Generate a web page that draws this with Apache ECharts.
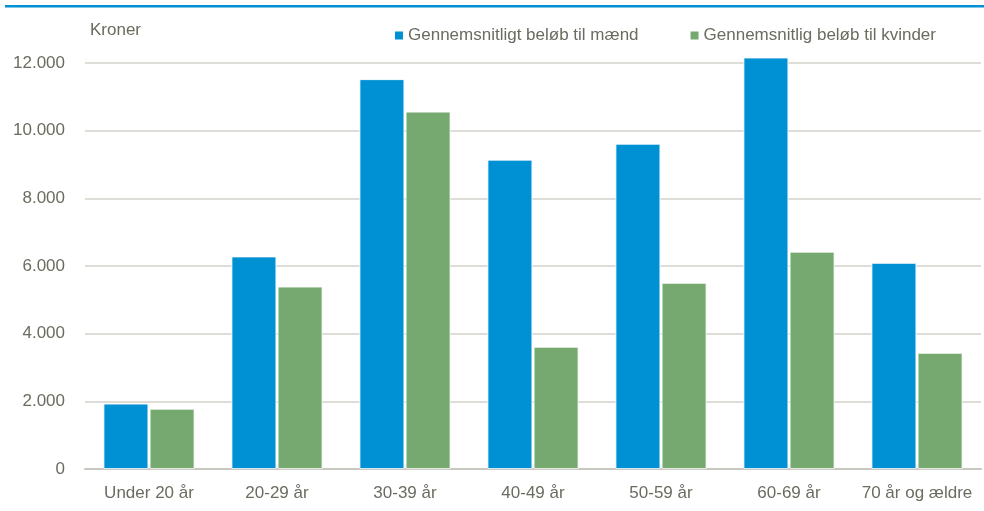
<!DOCTYPE html>
<html><head><meta charset="utf-8">
<script src="https://cdn.jsdelivr.net/npm/echarts@6/dist/echarts.min.js"></script>
<style>html,body{margin:0;padding:0;background:#fff}#c{width:984px;height:511px}</style>
</head><body><div id="c"></div>
<script>
const categories = ['Under 20 år','20-29 år','30-39 år','40-49 år','50-59 år','60-69 år','70 år og ældre'];
const menValues = [1930, 6280, 11520, 9140, 9610, 12160, 6090];
const womenValues = [1780, 5390, 10560, 3610, 5500, 6420, 3430];
const seriesNames = ['Gennemsnitligt beløb til mænd','Gennemsnitlig beløb til kvinder'];
const yTicks = {min:0, max:12000, interval:2000};
const textColor = '#6b6b60';
const chart = echarts.init(document.getElementById('c'));
chart.setOption({
  animation:false,
  textStyle:{fontFamily:'Liberation Sans, Arial, sans-serif'},
  graphic:[{type:'rect',shape:{x:5,y:5,width:979,height:2.5},style:{fill:'#0090d4'},silent:true},
           {type:'text',left:90,top:22,style:{text:'Kroner',fill:textColor,font:'17px Liberation Sans, Arial, sans-serif'}}],
  legend:{top:22,left:388,itemWidth:10,itemHeight:10,itemGap:50,icon:'rect',
    textStyle:{color:textColor,fontSize:17,padding:[0,0,0,-1]}},
  grid:{left:85,right:3,top:63,bottom:42,containLabel:false},
  xAxis:{type:'category',data:categories,
    axisLine:{lineStyle:{color:'#c8c8c0',width:2}},axisTick:{show:false},
    axisLabel:{color:textColor,fontSize:17,margin:16,interval:0}},
  yAxis:{type:'value',min:yTicks.min,max:yTicks.max,interval:yTicks.interval,
    axisLine:{show:false},axisTick:{show:false},
    splitLine:{lineStyle:{color:'#d3d3cb',width:1.5}},
    axisLabel:{color:textColor,fontSize:17,margin:20,
      formatter:v=>String(v).replace(/\B(?=(\d{3})+(?!\d))/g,'.')}},
  series:[
    {name:seriesNames[0],type:'bar',data:menValues,barWidth:'35%',barGap:'3%',clip:false,
     itemStyle:{color:'#0090d4',borderColor:'#ffffff',borderWidth:0.8}},
    {name:seriesNames[1],type:'bar',data:womenValues,barWidth:'35%',clip:false,
     itemStyle:{color:'#76a96f',borderColor:'#ffffff',borderWidth:0.8}}
  ]
});
</script></body></html>
